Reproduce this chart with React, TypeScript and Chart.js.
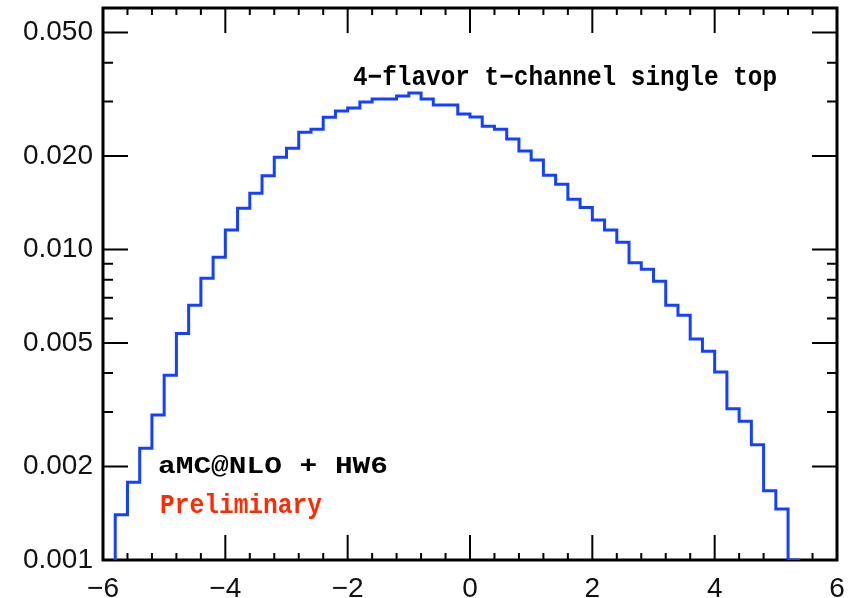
import React, { useEffect, useRef } from 'react';
import { Chart, registerables } from 'chart.js';

Chart.register(...registerables);

// Lower edges of the histogram bins (plus final upper edge)
const binEdges = [
  -6.0, -5.8, -5.6, -5.4, -5.2, -5.0, -4.8, -4.6, -4.4, -4.2,
  -4.0, -3.8, -3.6, -3.4, -3.2, -3.0, -2.8, -2.6, -2.4, -2.2,
  -2.0, -1.8, -1.6, -1.4, -1.2, -1.0, -0.8, -0.6, -0.4, -0.2,
  0.0, 0.2, 0.4, 0.6, 0.8, 1.0, 1.2, 1.4, 1.6, 1.8,
  2.0, 2.2, 2.4, 2.6, 2.8, 3.0, 3.2, 3.4, 3.6, 3.8,
  4.0, 4.2, 4.4, 4.6, 4.8, 5.0, 5.2, 5.4,
];

// Bin contents (one per bin, 57 bins)
const binValues = [
  0.0006,
  0.00140, 0.00178, 0.00229, 0.00293, 0.00394, 0.00537, 0.00662, 0.00808, 0.00945, 0.01157,
  0.01358, 0.01518, 0.01730, 0.01984, 0.02121, 0.02387, 0.02441, 0.02668, 0.02796, 0.02859,
  0.02989, 0.03057, 0.03057, 0.03125, 0.03196, 0.03057, 0.02924, 0.02924, 0.02735, 0.02675,
  0.02496, 0.02441, 0.02272, 0.02078, 0.01944, 0.01735, 0.01623, 0.01452, 0.01365, 0.01245,
  0.01157, 0.01056, 0.00906, 0.00864, 0.00791, 0.00662, 0.00614, 0.00515, 0.00470, 0.00403,
  0.00307, 0.00280, 0.00235, 0.00167, 0.00146,
  0.0010,
];

const xMajorTicks = [-6, -4, -2, 0, 2, 4, 6];
const xMinorTicks = [
  -5.6, -5.2, -4.8, -4.4, -3.6, -3.2, -2.8, -2.4, -1.6, -1.2, -0.8, -0.4,
  0.4, 0.8, 1.2, 1.6, 2.4, 2.8, 3.2, 3.6, 4.4, 4.8, 5.2, 5.6,
];
const yMajorTicks = [0.001, 0.002, 0.005, 0.01, 0.02, 0.05];
const yMinorTicks = [0.003, 0.004, 0.006, 0.007, 0.008, 0.009, 0.03, 0.04];

const titleText = '4\u2212flavor t\u2212channel single top';
const generatorText = 'aMC@NLO + HW6';
const statusText = 'Preliminary';

const X_MIN = -6;
const X_MAX = 6;
const Y_MIN = 0.001;
const Y_MAX = 0.06;

function drawStretched(ctx: CanvasRenderingContext2D, text: string, x: number, baseline: number, font: string, color: string, targetWidth: number) {
  ctx.save();
  ctx.font = font;
  ctx.fillStyle = color;
  ctx.textBaseline = 'alphabetic';
  ctx.textAlign = 'left';
  const w = ctx.measureText(text).width;
  const sx = targetWidth / w;
  ctx.translate(x, baseline);
  ctx.scale(sx, 1);
  ctx.fillText(text, 0, 0);
  ctx.restore();
}

const framePlugin = {
  id: 'frameTicks',
  beforeDatasetsDraw(chart: any) {
    const { ctx, chartArea } = chart;
    const { left, right, top, bottom } = chartArea;
    const xs = chart.scales.x;
    const ys = chart.scales.y;
    ctx.save();
    ctx.strokeStyle = '#000';
    ctx.lineWidth = 2;
    ctx.beginPath();
    const vt = (v: number, len: number) => {
      const px = xs.getPixelForValue(v);
      ctx.moveTo(px, bottom);
      ctx.lineTo(px, bottom - len);
      ctx.moveTo(px, top);
      ctx.lineTo(px, top + len);
    };
    const ht = (v: number, len: number) => {
      const py = ys.getPixelForValue(v);
      ctx.moveTo(left, py);
      ctx.lineTo(left + len, py);
      ctx.moveTo(right, py);
      ctx.lineTo(right - len, py);
    };
    xMajorTicks.forEach((v) => vt(v, 25));
    xMinorTicks.forEach((v) => vt(v, 7));
    yMajorTicks.forEach((v) => ht(v, 25));
    yMinorTicks.forEach((v) => ht(v, 10));
    ctx.stroke();
    ctx.lineWidth = 3;
    ctx.strokeRect(left, top, right - left, bottom - top);
    ctx.restore();
  },
};

const textPlugin = {
  id: 'annotText',
  afterDatasetsDraw(chart: any) {
    const ctx = chart.ctx;
    drawStretched(ctx, titleText, 353, 85, 'bold 27px "Liberation Mono"', '#000', 424);
    drawStretched(ctx, generatorText, 158, 473, 'bold 24px "Liberation Mono"', '#000', 230);
    drawStretched(ctx, statusText, 160, 513, 'bold 27px "Liberation Mono"', '#ff2a00', 162);
  },
};

export default function App() {
  const canvasRef = useRef<HTMLCanvasElement | null>(null);

  useEffect(() => {
    const canvas = canvasRef.current;
    if (!canvas) return;
    const data = binEdges.map((x, i) => ({ x, y: binValues[Math.min(i, binValues.length - 1)] }));
    const chart = new Chart(canvas, {
      type: 'line',
      data: {
        datasets: [
          {
            data,
            borderColor: '#1440ff',
            borderWidth: 3,
            pointRadius: 0,
            fill: false,
            stepped: true,
            tension: 0,
          },
        ],
      },
      options: {
        animation: false,
        responsive: false,
        devicePixelRatio: 1,
        layout: { padding: { top: 8, right: 20, left: 0, bottom: 0 } },
        plugins: { legend: { display: false }, tooltip: { enabled: false } },
        scales: {
          x: {
            type: 'linear',
            min: X_MIN,
            max: X_MAX,
            afterBuildTicks: (s: any) => {
              s.ticks = xMajorTicks.map((v) => ({ value: v }));
            },
            afterFit: (s: any) => {
              s.height = 38;
              s.paddingLeft = 0;
              s.paddingRight = 0;
            },
            grid: { display: false, drawTicks: false },
            border: { display: false },
            ticks: {
              autoSkip: false,
              maxRotation: 0,
              padding: 12,
              color: '#111',
              font: { family: 'Liberation Sans', size: 28 },
              callback: (v: any) => (Number(v) < 0 ? '\u2212' + Math.abs(Number(v)) : String(v)),
            },
          },
          y: {
            type: 'logarithmic',
            min: Y_MIN,
            max: Y_MAX,
            afterBuildTicks: (s: any) => {
              s.ticks = yMajorTicks.map((v) => ({ value: v }));
            },
            afterFit: (s: any) => {
              s.width = 103;
              s.paddingTop = 0;
              s.paddingBottom = 0;
            },
            grid: { display: false, drawTicks: false },
            border: { display: false },
            ticks: {
              autoSkip: false,
              padding: 10,
              color: '#111',
              font: { family: 'Liberation Sans', size: 28 },
              callback: (v: any) => Number(v).toFixed(3),
            },
          },
        },
      },
      plugins: [framePlugin, textPlugin],
    } as any);
    return () => chart.destroy();
  }, []);

  return (
    <div style={{ position: 'absolute', left: 0, top: 0, width: 857, height: 598, background: '#fff' }}>
      <canvas ref={canvasRef} width={857} height={598} />
    </div>
  );
}
